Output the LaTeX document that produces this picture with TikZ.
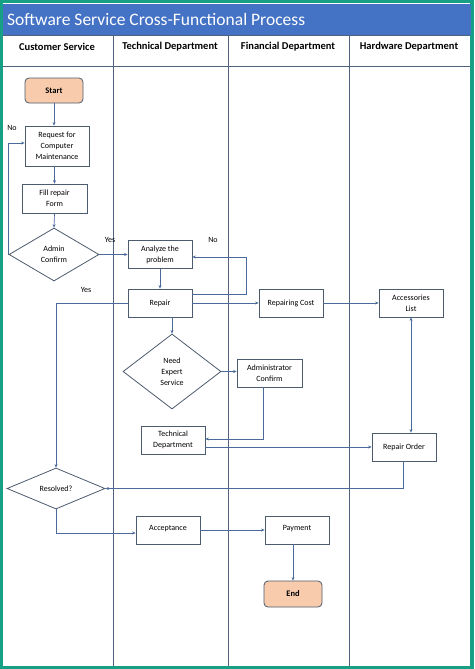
\documentclass[tikz,border=0pt]{standalone}
\usepackage{fontspec}
\setmainfont{Carlito}
\usetikzlibrary{shapes.geometric,arrows.meta}
\definecolor{tealframe}{HTML}{17A085}
\definecolor{titleblue}{HTML}{4472C4}
\definecolor{peach}{HTML}{F8CBAD}
\definecolor{boxline}{HTML}{4D5B6E}
\definecolor{conn}{HTML}{4A6A9A}
\definecolor{lane}{HTML}{50627E}
\begin{document}
\begin{tikzpicture}[x=1pt,y=-1pt,
  box/.style={draw=boxline, fill=white, line width=0.8pt, minimum width=64pt, minimum height=28pt, align=center, font=\fontsize{8}{11}\selectfont, inner sep=1pt},
  term/.style={box, rounded corners=4pt, fill=peach, minimum width=58pt, minimum height=25pt, font=\bfseries\fontsize{8.5}{10}\selectfont},
  dec/.style={diamond, draw=boxline, fill=white, line width=0.8pt, align=center, font=\fontsize{8}{11}\selectfont, inner sep=0pt},
  arr/.style={draw=conn, line width=0.7pt, -{Stealth[length=3.5pt,width=3pt]}},
  darr/.style={draw=conn, line width=0.7pt, {Stealth[length=3.5pt,width=3pt]}-{Stealth[length=3.5pt,width=3pt]}},
  lbl/.style={font=\fontsize{8}{9}\selectfont, inner sep=0pt},
  hdr/.style={font=\bfseries\fontsize{10.5}{12}\selectfont, inner sep=0pt},
  lanestyle/.style={draw=lane, line width=0.7pt}
]
% frame
\fill[tealframe] (0,0) rectangle (474,669);
\fill[white] (3,3) rectangle (470,666);
\fill[titleblue] (3,4) rectangle (471,35);
\node[anchor=west, text=white, font=\fontsize{17.5}{20}\selectfont, inner sep=0pt] (title) at (7,19) {Software Service Cross-Functional Process};
% header and lanes
\draw[lanestyle] (3,35) -- (470,35);
\draw[lanestyle] (3,66) -- (470,66);
\draw[lanestyle] (113,35) -- (113,666);
\draw[lanestyle] (228,35) -- (228,666);
\draw[lanestyle] (349,35) -- (349,666);
\node[hdr] (h1) at (57,47) {Customer Service};
\node[hdr] (h2) at (170,47) {Technical Department};
\node[hdr] (h3) at (288,47) {Financial Department};
\node[hdr] (h4) at (409,47) {Hardware Department};
% nodes
\node[term] (start) at (54,90.5) {Start};
\node[box, minimum height=40pt] (req) at (57,146) {Request for\\Computer\\Maintenance};
\node[box, minimum width=65pt, minimum height=29pt] (fill) at (54.5,198.5) {Fill repair\\Form};
\node[dec, minimum width=90pt, minimum height=53pt] (admin) at (54,254.5) {Admin\\Confirm};
\node[box] (analyze) at (160,254.5) {Analyze the\\problem};
\node[box] (repair) at (160,303) {Repair};
\node[dec, minimum width=98pt, minimum height=75pt] (need) at (172,371.5) {Need\\Expert\\Service};
\node[box, minimum width=65pt] (adminc) at (269.5,373) {Administrator\\Confirm};
\node[box] (tech) at (173,440) {Technical\\Department};
\node[box] (cost) at (291,303) {Repairing Cost};
\node[box] (acc) at (411,303) {Accessories\\List};
\node[box] (order) at (404,447) {Repair Order};
\node[dec, minimum width=98pt, minimum height=41pt] (resolved) at (56,488.5) {Resolved?};
\node[box, text depth=5pt] (accept) at (168,530) {Acceptance};
\node[box, text depth=5pt] (pay) at (297,530) {Payment};
\node[term, minimum height=26pt] (end) at (293,594) {End};
% connectors
\draw[arr] (start.south) -- (start.south |- req.north);
\draw[arr] (fill.north |- req.south) -- (fill.north);
\draw[arr] (fill.south) -- (admin.north);
\draw[arr] (admin.west) |- ([yshift=3pt]req.west);
\draw[arr] (admin.east) -- (admin.east -| analyze.west);
\draw[arr] (analyze.south) -- (repair.north);
\coordinate (nocorner) at (246,294);
\draw[arr] ([yshift=9pt]repair.east) -- (nocorner) |- ([yshift=-2.5pt]analyze.east);
\draw[arr] (repair.east) -- (cost.west);
\draw[arr] (cost.east) -- (acc.west);
\draw[arr] (need.north |- repair.south) -- (need.north);
\draw[arr] (need.east) -- (need.east -| adminc.west);
\draw[arr] ([xshift=-6.5pt]adminc.south) |- ([yshift=1pt]tech.east);
\draw[arr] (order.west -| tech.east) -- (order.west);
\draw[darr] (acc.south) -- (acc.south |- order.north);
\draw[arr] ([xshift=-1pt]order.south) |- (resolved.east);
\draw[arr] (repair.west) -| (resolved.north);
\draw[arr] (resolved.south) |- ([yshift=-3pt]accept.west);
\draw[arr] (accept.east) -- (pay.west);
\draw[arr] (end.north |- pay.south) -- (end.north);
% labels
\node[lbl] (no1) at (12,128) {No};
\node[lbl] (yes1) at (110,240) {Yes};
\node[lbl] (no2) at (213,240) {No};
\node[lbl] (yes2) at (86,290) {Yes};
\end{tikzpicture}
\end{document}
